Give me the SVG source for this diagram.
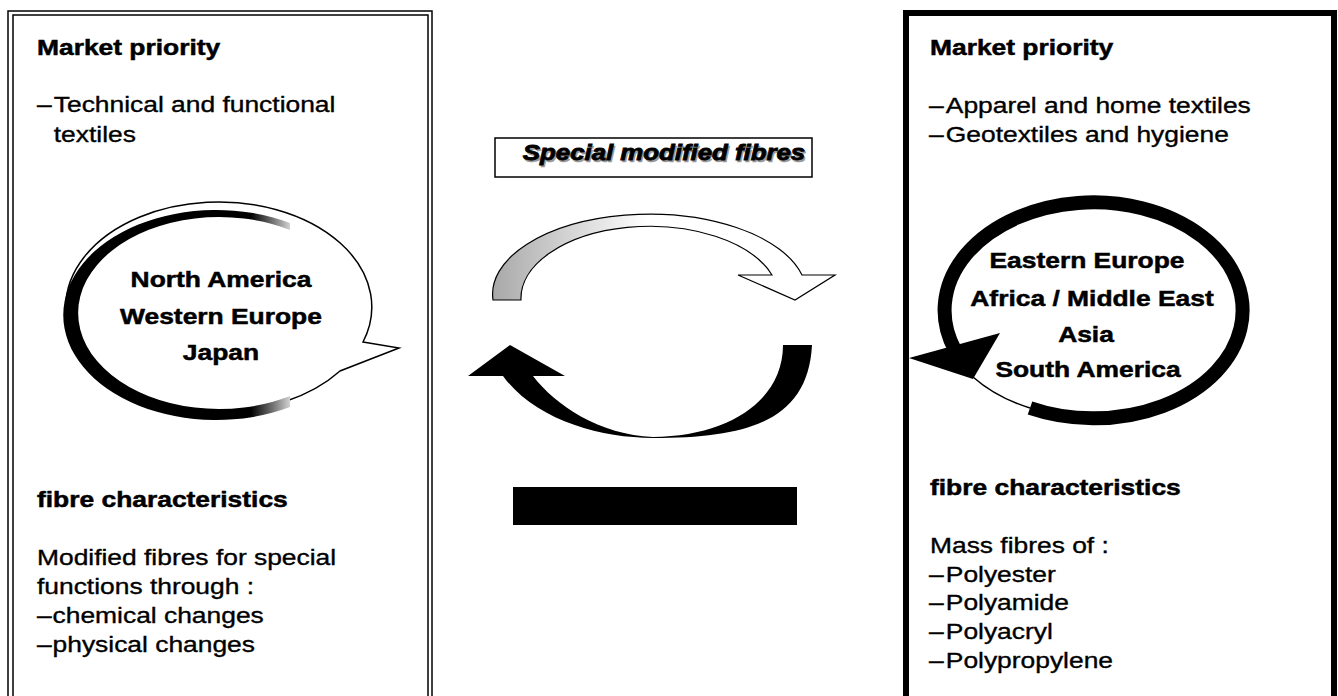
<svg xmlns="http://www.w3.org/2000/svg" width="1338" height="696" viewBox="0 0 1338 696">
<style>
.t{font-family:"Liberation Sans",Arial,sans-serif;font-size:22px;fill:#000;stroke:#000;stroke-width:0.35}
.b{font-weight:bold;stroke-width:0.5}
.m{text-anchor:middle}
.thin{fill:none;stroke:#000;stroke-width:1.5}
</style>
<defs>
<linearGradient id="fadeL" gradientUnits="userSpaceOnUse" x1="63" y1="0" x2="292" y2="0">
<stop offset="0" stop-color="#000"/><stop offset="0.82" stop-color="#000"/><stop offset="0.92" stop-color="#777"/><stop offset="1" stop-color="#ddd"/>
</linearGradient>
<linearGradient id="fadeTop" gradientUnits="userSpaceOnUse" x1="493" y1="0" x2="835" y2="0">
<stop offset="0" stop-color="#a8a8a8"/><stop offset="0.2" stop-color="#d0d0d0"/><stop offset="0.45" stop-color="#fff"/><stop offset="1" stop-color="#fff"/>
</linearGradient>
</defs>
<rect width="1338" height="696" fill="#fff"/>

<g id="left-box">
<rect x="8" y="11" width="424" height="720" fill="none" stroke="#000" stroke-width="1.5"/>
<rect x="13" y="15" width="415" height="720" fill="none" stroke="#000" stroke-width="1.5"/>
<text class="t b" transform="translate(37 55) scale(1.2 1)">Market priority</text>
<text class="t" transform="translate(37 112) scale(1.2 1)"><tspan>–</tspan><tspan x="14">Technical and functional</tspan></text>
<text class="t" transform="translate(37 142) scale(1.2 1)"><tspan x="14">textiles</tspan></text>
<text class="t b" transform="translate(37 507) scale(1.2 1)">fibre characteristics</text>
<text class="t" transform="translate(37 565) scale(1.2 1)">Modified fibres for special</text>
<text class="t" transform="translate(37 594) scale(1.2 1)">functions through :</text>
<text class="t" transform="translate(37 623) scale(1.2 1)"><tspan>–</tspan><tspan x="13">chemical changes</tspan></text>
<text class="t" transform="translate(37 652) scale(1.2 1)"><tspan>–</tspan><tspan x="13">physical changes</tspan></text>
</g>

<g id="left-callout">
<path d="M 363 342 L 399 348 L 340 371 A 153 105 0 1 1 363 342 Z" fill="#fff" stroke="#000" stroke-width="1.5"/>
<path d="M 290 223 A 153 105 0 1 0 290 407 L 290 396 A 141 96 0 1 1 290 230 Z" fill="url(#fadeL)"/>
<text class="t b m" transform="translate(221 287) scale(1.2 1)">North America</text>
<text class="t b m" transform="translate(221 324) scale(1.2 1)">Western Europe</text>
<text class="t b m" transform="translate(221 360) scale(1.2 1)">Japan</text>
</g>

<g id="right-box">
<rect x="906" y="13" width="428" height="720" fill="none" stroke="#000" stroke-width="6"/>
<text class="t b" transform="translate(930 55) scale(1.2 1)">Market priority</text>
<text class="t" transform="translate(929 113) scale(1.2 1)"><tspan>–</tspan><tspan x="14">Apparel and home textiles</tspan></text>
<text class="t" transform="translate(929 142) scale(1.2 1)"><tspan>–</tspan><tspan x="14">Geotextiles and hygiene</tspan></text>
<text class="t b" transform="translate(930 495) scale(1.2 1)">fibre characteristics</text>
<text class="t" transform="translate(930 553) scale(1.2 1)">Mass fibres of :</text>
<text class="t" transform="translate(929 582) scale(1.2 1)"><tspan>–</tspan><tspan x="14">Polyester</tspan></text>
<text class="t" transform="translate(929 610) scale(1.2 1)"><tspan>–</tspan><tspan x="14">Polyamide</tspan></text>
<text class="t" transform="translate(929 639) scale(1.2 1)"><tspan>–</tspan><tspan x="14">Polyacryl</tspan></text>
<text class="t" transform="translate(929 668) scale(1.2 1)"><tspan>–</tspan><tspan x="14">Polypropylene</tspan></text>
</g>

<g id="right-cycle">
<path d="M 973 377 A 149 108 0 0 0 1030 408" class="thin"/>
<path d="M 1030 408 A 149 108 0 1 0 955 350" fill="none" stroke="#000" stroke-width="14"/>
<polygon points="909,358 1000,333 973,379" fill="#000"/>
<text class="t b m" transform="translate(1087 268) scale(1.2 1)">Eastern Europe</text>
<text class="t b m" transform="translate(1092 306) scale(1.2 1)">Africa / Middle East</text>
<text class="t b m" transform="translate(1086 342) scale(1.2 1)">Asia</text>
<text class="t b m" transform="translate(1088 377) scale(1.2 1)">South America</text>
</g>

<g id="special-label">
<rect x="495" y="138" width="317" height="39" fill="#fff" stroke="#000" stroke-width="1.5"/>
<text class="t b m" transform="translate(665.5 161.5) scale(1.2 1)" style="font-style:italic;font-size:21.5px;fill:#999;stroke:#999">Special modified fibres</text>
<text class="t b m" transform="translate(664 160) scale(1.2 1)" style="font-style:italic;font-size:21.5px;stroke-width:0.8">Special modified fibres</text>
</g>

<g id="connectors">
<path d="M 493 300 A 157 80 0 0 1 802 275 L 835 275 L 795 300 L 738 275 L 772 275 A 129 72 0 0 0 521 300 Z" fill="url(#fadeTop)" stroke="#000" stroke-width="1.2"/>
<path d="M 812 345 C 808 420 750 438 653 438 C 600 438 535 420 503 376 L 468 376 L 510 345 L 565 376 L 533 376 C 555 405 600 435 653 437 C 730 436 783 400 783 345 Z" fill="#000"/>
</g>

<g id="black-bar">
<rect x="513" y="487" width="284" height="38" fill="#000"/>
</g>
</svg>
